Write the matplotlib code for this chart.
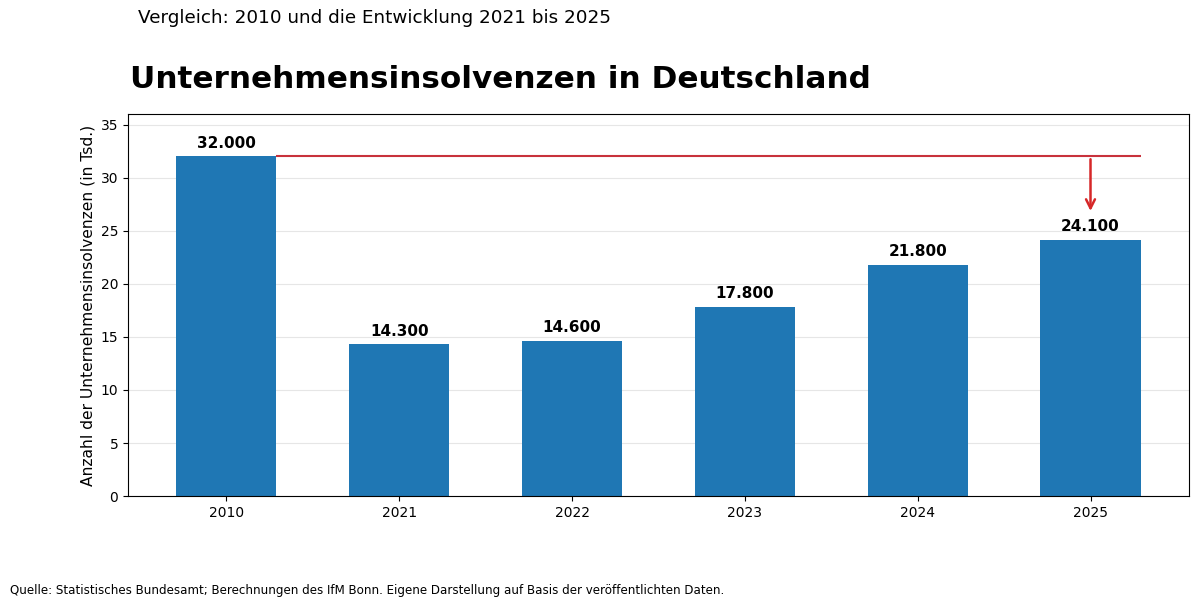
import matplotlib
matplotlib.use("Agg")
import matplotlib.pyplot as plt

years = ["2010", "2021", "2022", "2023", "2024", "2025"]
insolvenzen = [32.0, 14.3, 14.6, 17.8, 21.8, 24.1]  # in Tsd.
labels = ["32.000", "14.300", "14.600", "17.800", "21.800", "24.100"]

fig = plt.figure(figsize=(12, 6.08), dpi=100)
ax = fig.add_axes([0.1067, 0.184, 0.884, 0.6285])

x = list(range(len(years)))
bars = ax.bar(x, insolvenzen, width=0.58, color="#1f77b4", zorder=2)

for xi, v, lab in zip(x, insolvenzen, labels):
    ax.text(xi, v + 0.55, lab, ha="center", va="bottom",
            fontsize=11, fontweight="bold")

# Referenzlinie auf Niveau 2010
ax.hlines(insolvenzen[0], x[0] + 0.29, x[-1] + 0.29, color="#c8323c",
          linewidth=1.5, zorder=3)
ax.annotate("", xy=(x[-1], 26.6), xytext=(x[-1], insolvenzen[0]),
            arrowprops=dict(arrowstyle="->", color="#d62728", lw=1.8,
                            mutation_scale=16), zorder=4)

ax.set_ylim(0, 36)
ax.set_xticks(x)
ax.set_xticklabels(years, fontsize=10)
ax.tick_params(axis="y", labelsize=10)
ax.set_ylabel("Anzahl der Unternehmensinsolvenzen (in Tsd.)", fontsize=11.2)
ax.yaxis.grid(True, color="#e6e6e6", linewidth=0.8, zorder=0)
ax.set_axisbelow(True)

fig.text(0.108, 0.845, "Unternehmensinsolvenzen in Deutschland",
         fontsize=22.4, fontweight="bold", ha="left", va="bottom")
fig.text(0.115, 0.97, "Vergleich: 2010 und die Entwicklung 2021 bis 2025",
         fontsize=13.2, ha="left", va="center")
fig.text(0.008, 0.028,
         "Quelle: Statistisches Bundesamt; Berechnungen des IfM Bonn. "
         "Eigene Darstellung auf Basis der veröffentlichten Daten.",
         fontsize=8.6, ha="left", va="center")

fig.savefig("out.png", dpi=100)
